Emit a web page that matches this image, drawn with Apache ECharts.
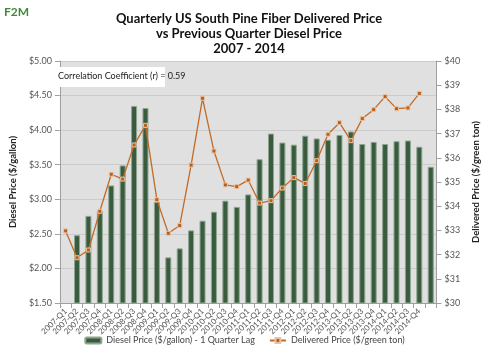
<!DOCTYPE html>
<html>
<head>
    <meta http-equiv="Content-Type" content="text/html; charset=utf-8">
    <title>Pine Fiber vs Diesel</title>
    <script src="https://cdn.jsdelivr.net/npm/echarts@6/dist/echarts.min.js"></script>
    <style>
        body {margin:0; background:#fff;}
    </style>
</head>
<body>
    <div id="main" style="width: 489px;height:354px;"></div>
    <script type="text/javascript">
        // quarters (last slot has no label, it holds the lagged 2014-Q4 diesel bar)
        var quarters = ['2007-Q1','2007-Q2','2007-Q3','2007-Q4','2008-Q1','2008-Q2','2008-Q3','2008-Q4',
                        '2009-Q1','2009-Q2','2009-Q3','2009-Q4','2010-Q1','2010-Q2','2010-Q3','2010-Q4',
                        '2011-Q1','2011-Q2','2011-Q3','2011-Q4','2012-Q1','2012-Q2','2012-Q3','2012-Q4',
                        '2013-Q1','2013-Q2','2013-Q3','2013-Q4','2014-Q1','2014-Q2','2014-Q3','2014-Q4',''];

        // diesel $/gallon, previous quarter (shifted by one slot)
        var diesel = ['-', 2.48, 2.76, 2.83, 3.20, 3.49, 4.35, 4.32, 2.96, 2.16, 2.29, 2.55, 2.69, 2.82, 2.98, 2.89,
                      3.07, 3.58, 3.95, 3.82, 3.79, 3.92, 3.88, 3.86, 3.93, 3.98, 3.80, 3.83, 3.80, 3.84, 3.85, 3.76, 3.47];

        // delivered price $/green ton
        var delivered = [32.98, 31.87, 32.19, 33.79, 35.32, 35.12, 36.53, 37.34, 34.27, 32.88, 33.20, 35.70, 38.46, 36.28, 34.88, 34.81,
                         35.08, 34.13, 34.23, 34.75, 35.18, 34.94, 35.88, 36.97, 37.45, 36.71, 37.62, 37.99, 38.53, 38.03, 38.06, 38.66, '-'];

        var corrNote = 'Correlation Coefficient (r) = 0.59';

        var font = 'Lato';
        var myChart = echarts.init(document.getElementById('main'));

        var option = {
            animation: false,
            textStyle: {fontFamily: font},
            title: {
                text: 'Quarterly US South Pine Fiber Delivered Price\nvs Previous Quarter Diesel Price\n2007 - 2014',
                left: 244, top: 6, textAlign: 'center',
                textStyle: {fontSize: 13, fontWeight: 'bold', color: '#111', lineHeight: 15, fontFamily: font}
            },
            graphic: [
                {type: 'text', left: 4, top: 6, style: {text: 'F2M', fontSize: 12, fontWeight: 'bold', fill: '#3f8a3a', fontFamily: font}},
                {type: 'rect', shape: {x: 52, y: 67, width: 113, height: 20}, style: {fill: '#fff'}, z: 10},
                {type: 'text', x: 58, y: 72, style: {text: corrNote, fontSize: 9, fill: '#222', fontFamily: font}, z: 11}
            ],
            legend: {
                bottom: 4, left: 'center', itemGap: 14, itemWidth: 16, itemHeight: 6,
                textStyle: {fontSize: 9, color: '#444'},
                data: ['Diesel Price ($/gallon) - 1 Quarter Lag', 'Delivered Price ($/green ton)']
            },
            grid: {left: 47, right: 43, top: 61, bottom: 51, show: true, backgroundColor: '#e0e0e0', borderWidth: 0},
            xAxis: {
                type: 'category', data: quarters,
                axisLine: {lineStyle: {color: '#a0a0a0'}},
                axisTick: {show: true, alignWithLabel: false, lineStyle: {color: '#a0a0a0'}},
                axisLabel: {rotate: 45, fontSize: 8, color: '#555', interval: 0, margin: 7}
            },
            yAxis: [{
                type: 'value', min: 1.5, max: 5, interval: 0.5, position: 'left',
                name: 'Diesel Price ($/gallon)', nameLocation: 'middle', nameGap: 31, nameRotate: 90,
                nameTextStyle: {fontSize: 9.5, fontWeight: 'bold', color: '#222'},
                axisLine: {show: true, lineStyle: {color: '#a0a0a0'}},
                axisTick: {show: true, lineStyle: {color: '#a0a0a0'}},
                splitLine: {lineStyle: {color: '#cbcbcb', width: 1}},
                axisLabel: {fontSize: 9, color: '#555', formatter: function(v){ return '$' + v.toFixed(2); }}
            }, {
                type: 'value', min: 30, max: 40, interval: 1, position: 'right',
                name: 'Delivered Price ($/green ton)', nameLocation: 'middle', nameGap: 26, nameRotate: 90,
                nameTextStyle: {fontSize: 9.5, fontWeight: 'bold', color: '#222'},
                axisLine: {show: true, lineStyle: {color: '#a0a0a0'}},
                axisTick: {show: true, lineStyle: {color: '#a0a0a0'}},
                splitLine: {show: false},
                axisLabel: {fontSize: 9, color: '#555', formatter: function(v){ return '$' + v; }}
            }],
            series: [{
                name: 'Diesel Price ($/gallon) - 1 Quarter Lag', type: 'bar', yAxisIndex: 0,
                data: diesel, barWidth: 6,
                itemStyle: {color: '#3a5c3e', borderColor: '#8ea590', borderWidth: 1}
            }, {
                name: 'Delivered Price ($/green ton)', type: 'line', yAxisIndex: 1,
                data: delivered, symbol: 'rect', symbolSize: 4,
                lineStyle: {color: '#c26a26', width: 1.3},
                itemStyle: {color: '#b95f1c', borderColor: '#e9c4a4', borderWidth: 1}
            }]
        };

        myChart.setOption(option);
    </script>
</body>
</html>
